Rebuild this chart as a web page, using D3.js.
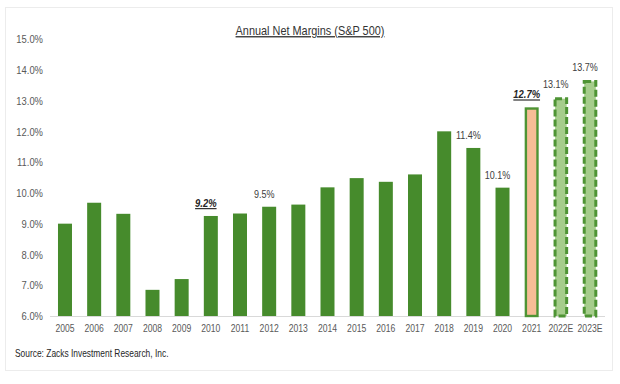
<!DOCTYPE html>
<html><head><meta charset="utf-8">
<script src="https://cdn.jsdelivr.net/npm/d3@7"></script>
<style>body{margin:0;background:#fff}svg{display:block}</style>
</head><body><svg id="c" width="620" height="384"></svg>
<script>
const categories = ["2005","2006","2007","2008","2009","2010","2011","2012","2013","2014","2015","2016","2017","2018","2019","2020","2021","2022E","2023E"];
const margins = [9.0,9.68,9.32,6.85,7.2,9.25,9.33,9.55,9.62,10.18,10.48,10.36,10.6,12.0,11.46,10.17,12.78,13.1,13.66];
const kinds = ["a","a","a","a","a","a","a","a","a","a","a","a","a","a","a","a","h","e","e"];
const labelYears = ["2010","2012","2019","2020","2021","2022E","2023E"];
const labelTexts = ["9.2%","9.5%","11.4%","10.1%","12.7%","13.1%","13.7%"];
const labelEmph = [true,false,false,false,true,false,false];
const yTicks = [6,7,8,9,10,11,12,13,14,15];
const title = "Annual Net Margins (S&P 500)";
const source = "Source: Zacks Investment Research, Inc.";

const F = "'Liberation Sans Narrow','Arial Narrow','Liberation Sans',Arial,sans-serif";
const N = 0.82; // narrow factor
const svg = d3.select("#c");
svg.append("rect").attr("x",5.5).attr("y",7.5).attr("width",607).attr("height",363)
  .attr("fill","#fff").attr("stroke","#ececec");

const x = d3.scaleBand().domain(categories).range([50.4,604.6]).paddingInner(0.52).paddingOuter(0.26);
const y = d3.scaleLinear().domain([6,15]).range([316,39]);

// y axis
const ya = svg.append("g").attr("transform","translate(43,0)")
  .call(d3.axisLeft(y).tickValues(yTicks).tickSize(0).tickPadding(0).tickFormat(d=>d3.format(".1f")(d)+"%"));
ya.select(".domain").remove();
ya.selectAll("text").attr("font-family",F).attr("font-size",11.5).attr("fill","#595959")
  .attr("transform",`scale(${N},1)`);

// baseline
svg.append("line").attr("x1",50).attr("x2",605).attr("y1",y(6)+0.5).attr("y2",y(6)+0.5)
  .attr("stroke","#d9d9d9").attr("stroke-width",1);

// x axis
const xa = svg.append("g").attr("transform",`translate(0,${y(6)})`)
  .call(d3.axisBottom(x).tickSize(0).tickPadding(9));
xa.select(".domain").remove();
xa.selectAll("text").attr("font-family",F).attr("font-size",10.5).attr("fill","#595959")
  .attr("transform",`scale(${N},1)`);

const data = categories.map((c,i)=>({c,v:margins[i],k:kinds[i]}));
svg.append("g").selectAll("rect").data(data).join("rect")
  .attr("x",d=>d.k==="a"?x(d.c):x(d.c)+1.2)
  .attr("y",d=>d.k==="a"?y(d.v):y(d.v)+1.2)
  .attr("width",d=>d.k==="a"?x.bandwidth():x.bandwidth()-2.4)
  .attr("height",d=>d.k==="a"?y(6)-y(d.v):y(6)-y(d.v)-1.2)
  .attr("fill",d=>d.k==="a"?"#468b2c":d.k==="h"?"#f6bd96":"#a6cd8c")
  .attr("stroke",d=>d.k==="a"?"none":"#4e9434")
  .attr("stroke-width",d=>d.k==="h"?2.4:3)
  .attr("stroke-dasharray",d=>d.k==="e"?"7,3":null);

// value labels
const lab = labelYears.map((c,i)=>({c,t:labelTexts[i],e:labelEmph[i],v:margins[categories.indexOf(c)]}));
svg.append("g").selectAll("text").data(lab).join("text")
  .attr("transform",d=>`translate(${x(d.c)+x.bandwidth()/2-5},${y(d.v)-9}) scale(${N},1)`)
  .attr("text-anchor","middle")
  .attr("font-family",F).attr("font-size",d=>d.e?11.5:11)
  .attr("font-weight",d=>d.e?"bold":"normal")
  .attr("font-style",d=>d.e?"italic":"normal")
  .attr("text-decoration",d=>d.e?"underline":null)
  .attr("fill",d=>d.e?"#262626":"#404040")
  .text(d=>d.t);

svg.append("text").attr("transform",`translate(310,35) scale(0.82,1)`).attr("text-anchor","middle")
  .attr("font-family",F).attr("font-size",13.3).attr("fill","#333")
  .attr("text-decoration","underline").text(title);

svg.append("text").attr("transform",`translate(15,357) scale(0.8,1)`)
  .attr("font-family",F).attr("font-size",10.5).attr("fill","#262626").text(source);
</script></body></html>
